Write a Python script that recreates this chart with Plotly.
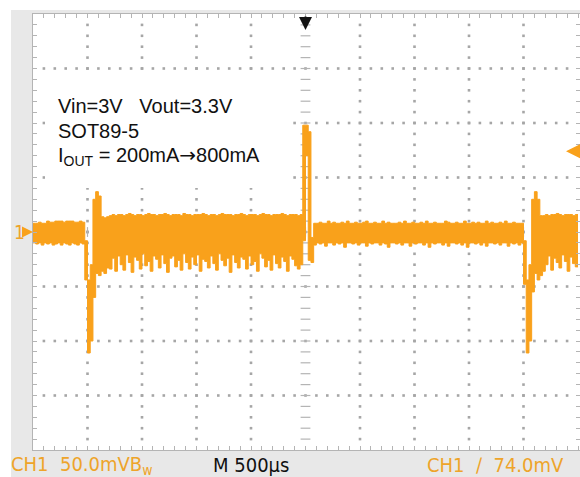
import numpy as np
import plotly.graph_objects as go

# ---------------- waveform (peak-detect envelope, one column per sample) ----------------
SAMPLE_US = 25          # time per acquisition column
US_PER_DIV = 500        # M 500us
MV_PER_DIV = 50         # CH1 50.0mV

# light load (200 mA)
light1_hi = [8, 8, 9, 8, 8, 10, 9, 9, 10, 10, 10, 9, 10, 10, 10, 9, 9, 10, 9]
light1_lo = [-10, -11, -10, -12, -10, -11, -10, -12, -11, -10,
             -12, -10, -11, -12, -10, -11, -12, -10, -11]
# load step 200 mA -> 800 mA
step1_hi = [-8, -44, -30, 30, 37, 33, 14, 13, 14]
step1_lo = [-44, -111, -100, -60, -38, -40, -36, -38, -33]
# heavy load (800 mA)
heavy1_hi = [15, 16, 15, 16, 16, 15, 16, 17, 16, 15,
             16, 16, 15, 16, 17, 16, 16, 15, 16, 16,
             17, 16, 15, 16, 16, 16, 15, 17, 16, 16,
             15, 16, 16, 16, 17, 16, 15, 16, 16, 15,
             16, 17, 16, 16, 16, 15, 16, 16, 17, 16,
             15, 16, 16, 16, 15, 16, 17, 16, 16, 15,
             16, 16, 16, 17, 16, 15, 16, 16, 16, 15,
             16]
heavy1_lo = [-34, -24, -36, -22, -30, -35, -21, -28, -37, -23,
             -26, -34, -20, -31, -27, -36, -22, -25, -33, -21,
             -29, -37, -24, -22, -32, -26, -35, -20, -28, -34,
             -23, -30, -21, -36, -25, -27, -33, -22, -29, -35,
             -20, -26, -31, -24, -37, -21, -28, -33, -23, -25,
             -34, -22, -30, -27, -36, -20, -24, -32, -26, -35,
             -21, -29, -33, -23, -27, -36, -22, -25, -31, -34,
             -30]
# load release 800 mA -> 200 mA
release_hi = [98, 98, 92, -5, 8]
release_lo = [-8, 70, -26, -28, -12]
# light load again
light2_hi = [8, 9, 8, 8, 10, 8, 9, 8, 8, 9,
             8, 10, 8, 8, 9, 8, 8, 9, 10, 8,
             8, 9, 8, 8, 10, 8, 9, 8, 8, 8,
             9, 8, 10, 8, 8, 9, 8, 8, 9, 8,
             10, 8, 8, 9, 8, 8, 8, 10, 9, 8,
             8, 9, 8, 8, 10, 8, 8, 9, 8, 9,
             8, 8, 10, 8, 9, 8, 8, 9, 8, 10,
             8, 8, 9, 8, 8, 8]
light2_lo = [-10, -11, -10, -13, -10, -10, -12, -10, -11, -10,
             -14, -10, -10, -11, -10, -12, -10, -10, -13, -10,
             -11, -10, -10, -12, -10, -11, -14, -10, -10, -11,
             -10, -12, -10, -10, -13, -10, -11, -10, -10, -12,
             -10, -14, -10, -11, -10, -10, -12, -10, -13, -10,
             -10, -11, -10, -12, -10, -14, -10, -10, -11, -10,
             -12, -10, -13, -10, -10, -11, -10, -12, -10, -10,
             -13, -10, -11, -10, -12, -10]
# second load step
step2_hi = [-8, -44, -30, 30, 37, 30, 15, 15]
step2_lo = [-48, -111, -100, -55, -38, -44, -40, -36]
heavy2_hi = [16, 15, 16, 16, 17, 16, 15, 16, 16, 16, 15, 16]
heavy2_lo = [-30, -22, -35, -24, -28, -33, -21, -27, -36, -23, -29, -32]

v_hi = light1_hi + step1_hi + heavy1_hi + release_hi + light2_hi + step2_hi + heavy2_hi
v_lo = light1_lo + step1_lo + heavy1_lo + release_lo + light2_lo + step2_lo + heavy2_lo
t_us = list(np.arange(len(v_hi)) * SAMPLE_US)

# ---------------- text ----------------
ARROW = "<span style='font-family:DejaVu Sans'>\u2192</span>"
info_lines = ["Vin=3V\u00a0\u00a0\u00a0Vout=3.3V", "SOT89-5",
              "I<sub>OUT</sub> = 200mA" + ARROW + "800mA"]
status_ch = "CH1\u00a0\u00a050.0mVB<sub>w</sub>"
status_time = "M 500\u00b5s"
status_trig = "CH1\u00a0\u00a0\u2215\u00a0\u00a074.0mV"
TRIG_MV = 74.0

# ---------------- page geometry ----------------
W, H = 580, 477
GX0, GY0, GY1 = 33, 14, 450          # graticule left, top, bottom (px)
DIV_PX = (GY1 - GY0) / 8
X_END = (W - GX0) / DIV_PX * US_PER_DIV
ORANGE = "#f9a11b"
TXT_ORANGE = "#eea42a"
GRID = "#b4b4b4"
DOT = "#a6a6a6"
FRAME = "#e8e8e8"


def px(x):
    return x / W


def py(y):
    return 1 - y / H


fig = go.Figure()

# graticule dots
dx, dy = [], []
for k in range(1, 10):
    if k == 5:
        continue
    for m in range(-19, 20):
        dx.append(k * US_PER_DIV)
        dy.append(m * MV_PER_DIV / 5)
for j in range(-3, 4):
    for m in range(1, 50):
        dx.append(m * US_PER_DIV / 5)
        dy.append(j * MV_PER_DIV)
fig.add_trace(go.Scatter(x=dx, y=dy, mode="markers", hoverinfo="skip",
                         marker=dict(symbol="square", size=2.6, color=DOT, line_width=0)))

# centre cross tick marks
cy = [m * MV_PER_DIV / 5 for m in range(-19, 20)]
fig.add_trace(go.Scatter(x=[5 * US_PER_DIV] * len(cy), y=cy, mode="markers", hoverinfo="skip",
                         marker=dict(symbol="line-ew", size=7, line=dict(width=1.2, color=GRID))))
cx = [m * US_PER_DIV / 5 for m in range(1, 50)]
fig.add_trace(go.Scatter(x=cx, y=[0] * len(cx), mode="markers", hoverinfo="skip",
                         marker=dict(symbol="line-ns", size=7, line=dict(width=1.2, color=GRID))))

# waveform envelope
tx = t_us + [len(v_hi) * SAMPLE_US]
fig.add_trace(go.Scatter(x=tx, y=v_hi + [v_hi[-1]], mode="lines", line_shape="hv",
                         line=dict(color=ORANGE, width=1), hoverinfo="skip"))
fig.add_trace(go.Scatter(x=tx, y=v_lo + [v_lo[-1]], mode="lines", line_shape="hv",
                         line=dict(color=ORANGE, width=1), fill="tonexty",
                         fillcolor=ORANGE, hoverinfo="skip"))

shapes = [
    dict(type="rect", xref="paper", yref="paper", x0=px(11), x1=px(GX0), y0=0, y1=py(10),
         fillcolor=FRAME, line_width=0, layer="below"),
    dict(type="rect", xref="paper", yref="paper", x0=px(11), x1=1, y0=py(GY0), y1=py(10),
         fillcolor=FRAME, line_width=0, layer="below"),
    dict(type="rect", xref="paper", yref="paper", x0=px(11), x1=1, y0=0, y1=py(GY1),
         fillcolor=FRAME, line_width=0, layer="below"),
    # label panel
    dict(type="rect", xref="paper", yref="paper", x0=px(45), x1=px(285), y0=py(188), y1=py(74),
         fillcolor="white", line_width=0, layer="above"),
]

ann = []
for line, yc in zip(info_lines, [106, 131, 156]):
    ann.append(dict(text=line, xref="paper", yref="paper", x=px(56), y=py(yc),
                    xanchor="left", yanchor="middle", showarrow=False,
                    font=dict(family="Liberation Sans, Arial", size=20, color="#111111")))

status_font = "Liberation Sans Narrow, DejaVu Sans Condensed, Arial Narrow, sans-serif"
for text, x0, col in [(status_ch, 9, TXT_ORANGE), (status_time, 211, "#111111"),
                      (status_trig, 425, TXT_ORANGE)]:
    ann.append(dict(text=text, xref="paper", yref="paper", x=px(x0), y=py(465),
                    xanchor="left", yanchor="middle", showarrow=False,
                    font=dict(family=status_font, size=20, color=col)))

# channel ground marker
ann.append(dict(text="1", xref="paper", yref="y", x=px(12), y=0, xanchor="left",
                yanchor="middle", showarrow=False,
                font=dict(family=status_font, size=19, color=TXT_ORANGE)))
ann.append(dict(text="", xref="paper", yref="y", x=px(33), y=0, ax=-12, ay=0,
                showarrow=True, arrowhead=2, arrowsize=1.1, arrowwidth=2, arrowcolor=ORANGE))
# trigger level marker
ann.append(dict(text="", xref="paper", yref="y", x=px(566), y=TRIG_MV, ax=14, ay=0,
                showarrow=True, arrowhead=2, arrowsize=1.1, arrowwidth=3, arrowcolor=ORANGE))
# trigger position marker
ann.append(dict(text="", xref="x", yref="paper", x=5 * US_PER_DIV, y=py(30), ax=0, ay=-15,
                showarrow=True, arrowhead=2, arrowsize=1.3, arrowwidth=2, arrowcolor="#111111"))

fig.update_layout(
    width=W, height=H, margin=dict(l=0, r=0, t=0, b=0),
    paper_bgcolor="white", plot_bgcolor="white", showlegend=False,
    shapes=shapes, annotations=ann,
    xaxis=dict(domain=[px(GX0), 1], range=[0, X_END], showgrid=False, zeroline=False,
               showline=True, linecolor=GRID, linewidth=1, mirror="ticks",
               ticks="inside", tick0=0, dtick=US_PER_DIV / 5, ticklen=4, tickcolor=GRID,
               showticklabels=False, fixedrange=True),
    yaxis=dict(domain=[py(GY1), py(GY0)], range=[-4 * MV_PER_DIV, 4 * MV_PER_DIV],
               showgrid=False, zeroline=False, showline=True, linecolor=GRID, linewidth=1,
               mirror="ticks", ticks="inside", tick0=0, dtick=MV_PER_DIV / 5, ticklen=4,
               tickcolor=GRID, showticklabels=False, fixedrange=True),
)

fig.write_html("out.html")
